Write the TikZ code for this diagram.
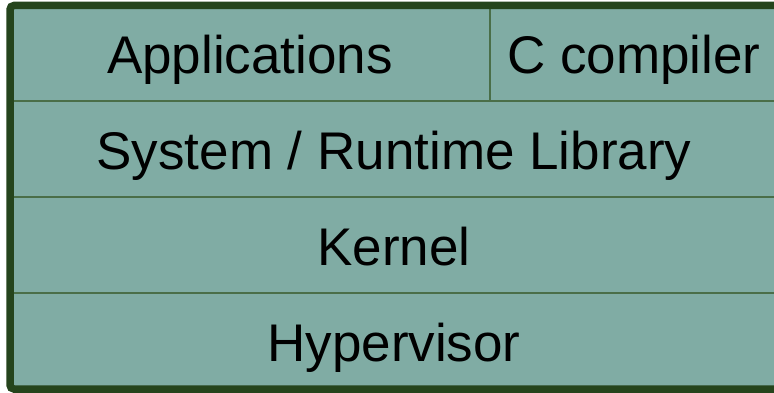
\documentclass[tikz,border=0pt]{standalone}
\usepackage{fontspec}
\setmainfont{Liberation Sans}
\definecolor{fillc}{HTML}{80ACA4}
\definecolor{borderc}{HTML}{25441C}
\definecolor{linec}{HTML}{4A6E48}
\begin{document}
\begin{tikzpicture}[x=1pt,y=1pt,
  lbl/.style={font=\fontsize{53}{62}\selectfont, text=black, anchor=base, inner sep=0pt},
  divider/.style={draw=linec, line width=1.6pt}]
\useasboundingbox (0,0) rectangle (774,392);
\fill[fillc] (10,3) rectangle (782,386.5);
% dividers
\coordinate (d1l) at (10,291); \coordinate (d1r) at (782,291);
\coordinate (d2l) at (10,195); \coordinate (d2r) at (782,195);
\coordinate (d3l) at (10,99);  \coordinate (d3r) at (782,99);
\coordinate (vt) at (490,386.5); \coordinate (vb) at (490,291);
\draw[divider] (d1l) -- (d1r);
\draw[divider] (d2l) -- (d2r);
\draw[divider] (d3l) -- (d3r);
\draw[draw=linec, line width=1.2pt] (vt) -- (vb);
\draw[borderc, line width=7.5pt, rounded corners=4pt] (10,3) rectangle (782,386.5);
% labels
\node[lbl] (apps) at (250,319) {Applications};
\node[lbl] (cc) at (634,319) {C compiler};
\node[lbl] (sys) at (394,223) {System / Runtime Library};
\node[lbl] (kern) at (394,127) {Kernel};
\node[lbl] (hyp) at (394,31) {Hypervisor};
\end{tikzpicture}
\end{document}
